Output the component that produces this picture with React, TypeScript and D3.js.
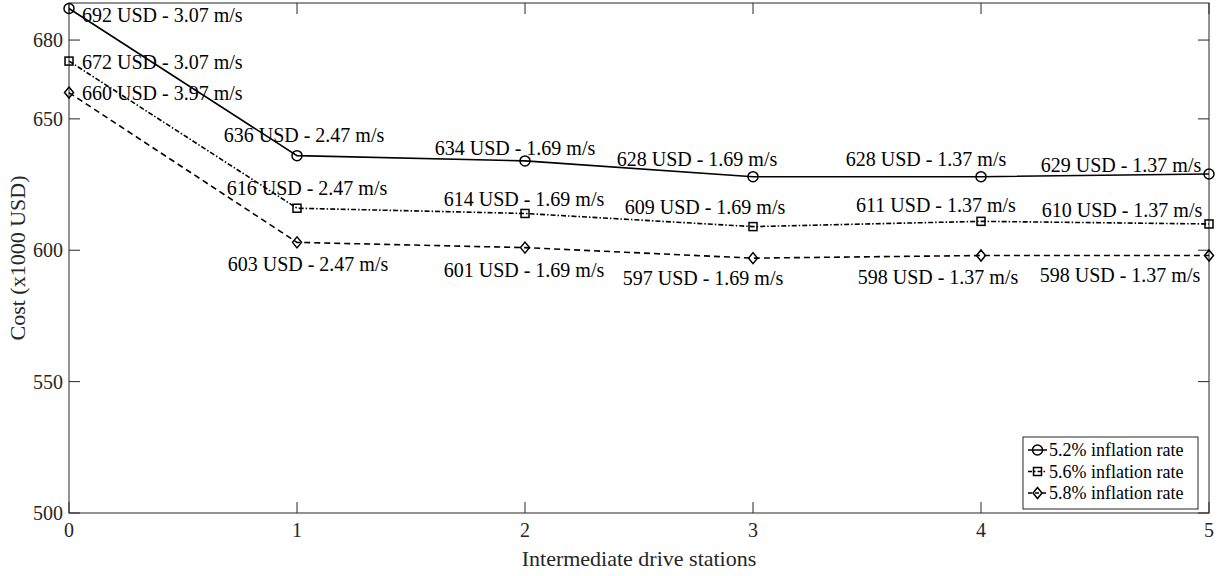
import React from "react";
import * as d3 from "d3";

const stations = [0, 1, 2, 3, 4, 5];
const seriesNames = ["5.2% inflation rate", "5.6% inflation rate", "5.8% inflation rate"];
const cost52 = [692, 636, 634, 628, 628, 629];
const cost56 = [672, 616, 614, 609, 611, 610];
const cost58 = [660, 603, 601, 597, 598, 598];
const speed52 = ["3.07", "2.47", "1.69", "1.69", "1.37", "1.37"];
const speed56 = ["3.07", "2.47", "1.69", "1.69", "1.37", "1.37"];
const speed58 = ["3.97", "2.47", "1.69", "1.69", "1.37", "1.37"];
const yTicks = [500, 550, 600, 650, 680];
const xTicks = [0, 1, 2, 3, 4, 5];

// label placement offsets (px) relative to each point
const labelOffsets = [
  [[13, 6.5], [7, -21], [-10, -13], [-56, -18], [-55, -18], [-88, -9]],
  [[13, 1], [10, -20], [-1, -14], [-48, -19.5], [-45, -16], [-87, -14]],
  [[13, 0], [11, 22], [-1, 22], [-50, 20], [-43, 21], [-89, 19.5]],
];

const W = 1226, H = 576;
const left = 69, right = 1209, top = 3, bottom = 513;
const axisColor = "#262626";
const font = "\"Liberation Serif\", \"Times New Roman\", serif";

const x = d3.scaleLinear().domain([0, 5]).range([left, right]);
const y = d3.scaleLinear().domain([500, 694.1]).range([bottom, top]);

const styles = [
  { dash: "none", marker: "circle" },
  { dash: "5,2,1.5,2", marker: "square" },
  { dash: "6,4", marker: "diamond" },
];

function Marker({ type, cx, cy }: { type: string; cx: number; cy: number }) {
  if (type === "circle") return <circle cx={cx} cy={cy} r={5} fill="none" stroke="#000" strokeWidth={1.5} />;
  if (type === "square") return <rect x={cx - 4} y={cy - 4} width={8} height={8} fill="none" stroke="#000" strokeWidth={1.5} />;
  return <path d={`M${cx},${cy - 5.5}L${cx + 4.5},${cy}L${cx},${cy + 5.5}L${cx - 4.5},${cy}Z`} fill="none" stroke="#000" strokeWidth={1.5} />;
}

export default function App() {
  const series = [cost52, cost56, cost58];
  const speeds = [speed52, speed56, speed58];
  const line = d3.line<number>().x((_, i) => x(stations[i])).y((d) => y(d));
  const tick = 11;
  return (
    <svg width={W} height={H} style={{ position: "absolute", left: 0, top: 0, background: "#fff" }} fontFamily={font}>
      <rect x={0} y={0} width={W} height={H} fill="#fff" />
      {yTicks.map((t) => (
        <g key={"y" + t}>
          <line x1={left} x2={left + tick} y1={y(t)} y2={y(t)} stroke={axisColor} />
          <line x1={right} x2={right - tick} y1={y(t)} y2={y(t)} stroke={axisColor} />
          <text x={left - 6} y={y(t)} dy="0.35em" textAnchor="end" fontSize={20} fill={axisColor}>{t}</text>
        </g>
      ))}
      {xTicks.map((t) => (
        <g key={"x" + t}>
          <line x1={x(t)} x2={x(t)} y1={bottom} y2={bottom - tick} stroke={axisColor} />
          <line x1={x(t)} x2={x(t)} y1={top} y2={top + tick} stroke={axisColor} />
          <text x={x(t)} y={bottom + 17} dy="0.35em" textAnchor="middle" fontSize={20} fill={axisColor}>{t}</text>
        </g>
      ))}
      <rect x={left} y={top} width={right - left} height={bottom - top} fill="none" stroke={axisColor} strokeWidth={1} />
      <text x={(left + right) / 2} y={558} dy="0.35em" textAnchor="middle" fontSize={22} fill={axisColor}>Intermediate drive stations</text>
      <text transform={`translate(17,${(top + bottom) / 2}) rotate(-90)`} dy="0.35em" textAnchor="middle" fontSize={22} fill={axisColor}>Cost (x1000 USD)</text>
      {series.map((s, si) => (
        <g key={"s" + si}>
          <path d={line(s) || ""} fill="none" stroke="#000" strokeWidth={1.6} strokeDasharray={styles[si].dash} />
          {s.map((v, i) => (
            <Marker key={i} type={styles[si].marker} cx={x(stations[i])} cy={y(v)} />
          ))}
          {s.map((v, i) => {
            const [dx, dy] = labelOffsets[si][i];
            return (
              <text key={"t" + i} x={x(stations[i]) + dx} y={y(v) + dy} dy="0.35em" textAnchor={i === 0 ? "start" : "middle"} fontSize={20} fill="#000">
                {`${v} USD - ${speeds[si][i]} m/s`}
              </text>
            );
          })}
        </g>
      ))}
      <g>
        <rect x={1023} y={437} width={175} height={72} fill="#fff" stroke={axisColor} strokeWidth={1} />
        {seriesNames.map((n, i) => {
          const ly = 450 + i * 21.5;
          return (
            <g key={n}>
              <line x1={1028} x2={1047} y1={ly} y2={ly} stroke="#000" strokeWidth={1.5} strokeDasharray={i === 0 ? "none" : i === 1 ? "4,2,1.5,2" : "4,3"} />
              <Marker type={styles[i].marker} cx={1037.5} cy={ly} />
              <text x={1049} y={ly} dy="0.35em" fontSize={18} fill="#000">{n}</text>
            </g>
          );
        })}
      </g>
    </svg>
  );
}
